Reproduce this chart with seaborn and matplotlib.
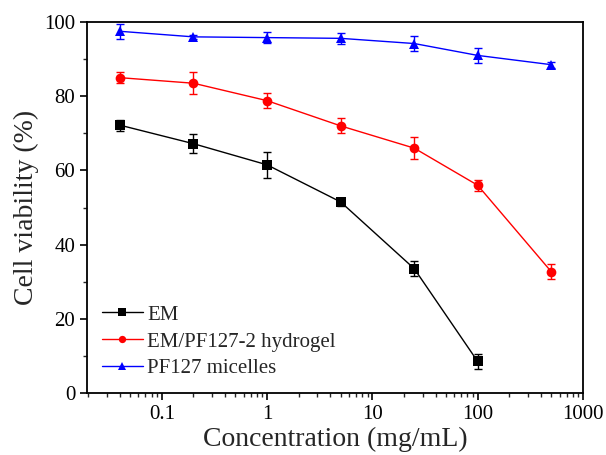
import numpy as np
import pandas as pd
import matplotlib
matplotlib.use("Agg")
import matplotlib.pyplot as plt
import seaborn as sns
from matplotlib.ticker import LogLocator, MultipleLocator, FuncFormatter

conc = [0.04, 0.2, 1, 5, 25, 100, 500]
em = [72.2, 67.2, 61.5, 51.5, 33.5, 8.5]
em_err = [1.5, 2.5, 3.5, 1.0, 2.0, 2.0]
gel = [85.0, 83.5, 78.8, 72.0, 66.0, 56.0, 32.7]
gel_err = [1.5, 3.0, 2.0, 2.0, 3.0, 1.5, 2.0]
mic = [97.5, 96.0, 95.8, 95.6, 94.2, 91.0, 88.5]
mic_err = [2.0, 0.6, 1.5, 1.5, 2.0, 2.0, 0.8]
names = ["EM", "EM/PF127-2 hydrogel", "PF127 micelles"]
colors = ["black", "#ff0000", "#0000ff"]
markers = ["s", "o", "^"]

sns.set_theme(style="ticks")
plt.rcParams['font.family'] = ['Liberation Serif', 'DejaVu Serif']

rows = []
for n, ys in zip(names, [em, gel, mic]):
    for x, y in zip(conc, ys):
        rows.append({"conc": x, "viab": y, "sample": n})
df = pd.DataFrame(rows)

fig = plt.figure(figsize=(6.06, 4.55), dpi=100)
ax = fig.add_axes([0.1436, 0.1363, 0.8184, 0.8153])

sns.lineplot(data=df, x="conc", y="viab", hue="sample", style="sample",
             palette=dict(zip(names, colors)), markers=dict(zip(names, markers)),
             dashes=False, markersize=7, markeredgewidth=0, linewidth=1.0, ax=ax, legend=True)
for ys, es, c in zip([em, gel, mic], [em_err, gel_err, mic_err], colors):
    ax.errorbar(conc[:len(ys)], ys, yerr=es, fmt="none", ecolor=c, elinewidth=1.0, capsize=3, capthick=1.0)

ax.set_xscale("log")
ax.set_xlim(0.0195, 1000)
ax.set_ylim(0, 100)
ax.xaxis.set_major_locator(LogLocator(base=10, numticks=10))
ax.xaxis.set_minor_locator(LogLocator(base=10, subs=np.arange(2, 10), numticks=100))
ax.xaxis.set_major_formatter(FuncFormatter(lambda v, p: f"{v:g}"))
ax.yaxis.set_major_locator(MultipleLocator(20))
ax.yaxis.set_minor_locator(MultipleLocator(10))
ax.tick_params(which="major", direction="out", length=5, width=1.2, labelsize=15, colors="black")
ax.tick_params(which="minor", direction="out", length=3, width=1.0)
for s in ax.spines.values():
    s.set_linewidth(1.3)
    s.set_color("black")
ax.set_xlabel("Concentration (mg/mL)", fontsize=20, labelpad=2)
ax.set_ylabel("Cell viability (%)", fontsize=20, labelpad=4)

leg = ax.legend(loc="lower left", frameon=False, fontsize=15, handlelength=2.0,
                handletextpad=0.2, labelspacing=0.35, borderaxespad=0.3,
                markerscale=0.75, bbox_to_anchor=(0.0, 0.0))
fig.savefig("out.png", dpi=100)
